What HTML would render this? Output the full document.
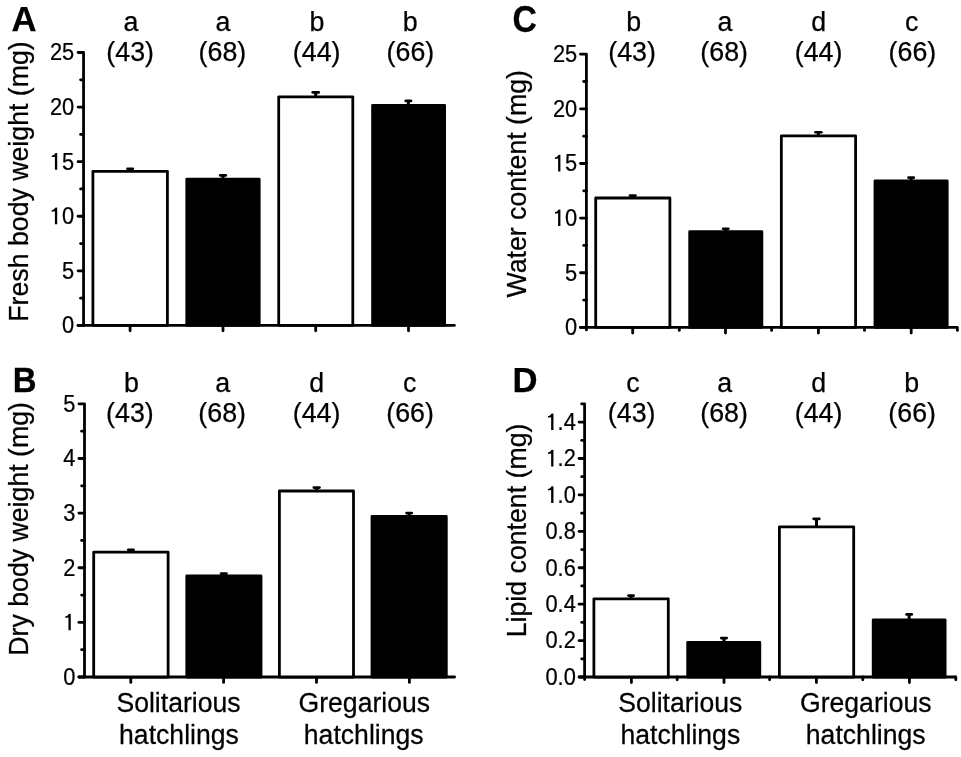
<!DOCTYPE html>
<html><head><meta charset="utf-8"><title>Figure</title>
<style>
html,body{margin:0;padding:0;background:#fff;}
body{width:961px;height:757px;overflow:hidden;}
svg{display:block;will-change:transform;}
text{font-family:"Liberation Sans", sans-serif;fill:#000;stroke:#000;stroke-width:0.25px;}
</style></head>
<body>
<svg width="961" height="757" viewBox="0 0 961 757">
<rect width="961" height="757" fill="#fff"/>
<path d="M78.10,52.50 L83.55,52.50 L83.55,325.45" fill="none" stroke="#000" stroke-width="2.8" stroke-linecap="round" stroke-linejoin="round"/>
<line x1="78.10" y1="325.45" x2="454.40" y2="325.45" stroke="#000" stroke-width="2.8" stroke-linecap="round"/>
<line x1="78.10" y1="325.45" x2="83.55" y2="325.45" stroke="#000" stroke-width="2.8" stroke-linecap="round"/>
<line x1="78.10" y1="270.86" x2="83.55" y2="270.86" stroke="#000" stroke-width="2.8" stroke-linecap="round"/>
<line x1="78.10" y1="216.27" x2="83.55" y2="216.27" stroke="#000" stroke-width="2.8" stroke-linecap="round"/>
<line x1="78.10" y1="161.68" x2="83.55" y2="161.68" stroke="#000" stroke-width="2.8" stroke-linecap="round"/>
<line x1="78.10" y1="107.09" x2="83.55" y2="107.09" stroke="#000" stroke-width="2.8" stroke-linecap="round"/>
<line x1="80.60" y1="298.15" x2="83.55" y2="298.15" stroke="#000" stroke-width="2.8" stroke-linecap="round"/>
<line x1="80.60" y1="243.56" x2="83.55" y2="243.56" stroke="#000" stroke-width="2.8" stroke-linecap="round"/>
<line x1="80.60" y1="188.97" x2="83.55" y2="188.97" stroke="#000" stroke-width="2.8" stroke-linecap="round"/>
<line x1="80.60" y1="134.38" x2="83.55" y2="134.38" stroke="#000" stroke-width="2.8" stroke-linecap="round"/>
<line x1="80.60" y1="79.80" x2="83.55" y2="79.80" stroke="#000" stroke-width="2.8" stroke-linecap="round"/>
<line x1="130.10" y1="325.45" x2="130.10" y2="330.85" stroke="#000" stroke-width="2.8" stroke-linecap="round"/>
<line x1="223.00" y1="325.45" x2="223.00" y2="330.85" stroke="#000" stroke-width="2.8" stroke-linecap="round"/>
<line x1="315.70" y1="325.45" x2="315.70" y2="330.85" stroke="#000" stroke-width="2.8" stroke-linecap="round"/>
<line x1="408.50" y1="325.45" x2="408.50" y2="330.85" stroke="#000" stroke-width="2.8" stroke-linecap="round"/>
<rect x="92.90" y="171.30" width="74.50" height="154.15" fill="#fff" stroke="#000" stroke-width="2.8" stroke-linejoin="round"/>
<rect x="186.80" y="179.20" width="72.40" height="146.25" fill="#000" stroke="#000" stroke-width="2.8" stroke-linejoin="round"/>
<rect x="278.70" y="96.80" width="74.10" height="228.65" fill="#fff" stroke="#000" stroke-width="2.8" stroke-linejoin="round"/>
<rect x="372.60" y="105.30" width="72.00" height="220.15" fill="#000" stroke="#000" stroke-width="2.8" stroke-linejoin="round"/>
<rect x="126.10" y="167.40" width="8.10" height="2.7" rx="1.35" fill="#000"/>
<rect x="128.65" y="168.40" width="3.00" height="3.00" fill="#000"/>
<rect x="218.90" y="174.10" width="8.20" height="2.7" rx="1.35" fill="#000"/>
<rect x="221.50" y="175.10" width="3.00" height="4.20" fill="#000"/>
<rect x="311.40" y="91.10" width="8.60" height="2.7" rx="1.35" fill="#000"/>
<rect x="314.20" y="92.10" width="3.00" height="4.80" fill="#000"/>
<rect x="404.40" y="99.60" width="7.90" height="2.7" rx="1.35" fill="#000"/>
<rect x="406.85" y="100.60" width="3.00" height="4.80" fill="#000"/>
<text transform="translate(74.20,60.40) scale(0.9100,1.0000)" font-size="24" text-anchor="end" font-weight="normal">25</text>
<text transform="translate(74.20,114.99) scale(0.9100,1.0000)" font-size="24" text-anchor="end" font-weight="normal">20</text>
<path d="M57.21,152.98 L57.21,169.68 L54.91,169.68 L54.91,156.78 C54.01,156.88 52.61,157.08 51.71,157.08 L51.71,155.68 C53.01,155.58 54.71,154.58 55.01,153.28 Z" fill="#000"/>
<text transform="translate(74.20,169.58) scale(0.9100,1.0000)" font-size="24" text-anchor="end" font-weight="normal">5</text>
<path d="M57.21,207.57 L57.21,224.27 L54.91,224.27 L54.91,211.37 C54.01,211.47 52.61,211.67 51.71,211.67 L51.71,210.27 C53.01,210.17 54.71,209.17 55.01,207.87 Z" fill="#000"/>
<text transform="translate(74.20,224.17) scale(0.9100,1.0000)" font-size="24" text-anchor="end" font-weight="normal">0</text>
<text transform="translate(74.20,278.76) scale(0.9100,1.0000)" font-size="24" text-anchor="end" font-weight="normal">5</text>
<text transform="translate(74.20,333.35) scale(0.9100,1.0000)" font-size="24" text-anchor="end" font-weight="normal">0</text>
<path d="M78.90,403.85 L84.50,403.85 L84.50,677.00" fill="none" stroke="#000" stroke-width="2.8" stroke-linecap="round" stroke-linejoin="round"/>
<line x1="78.90" y1="677.00" x2="454.60" y2="677.00" stroke="#000" stroke-width="2.8" stroke-linecap="round"/>
<line x1="78.90" y1="677.00" x2="84.50" y2="677.00" stroke="#000" stroke-width="2.8" stroke-linecap="round"/>
<line x1="78.90" y1="622.37" x2="84.50" y2="622.37" stroke="#000" stroke-width="2.8" stroke-linecap="round"/>
<line x1="78.90" y1="567.74" x2="84.50" y2="567.74" stroke="#000" stroke-width="2.8" stroke-linecap="round"/>
<line x1="78.90" y1="513.11" x2="84.50" y2="513.11" stroke="#000" stroke-width="2.8" stroke-linecap="round"/>
<line x1="78.90" y1="458.48" x2="84.50" y2="458.48" stroke="#000" stroke-width="2.8" stroke-linecap="round"/>
<line x1="81.60" y1="649.68" x2="84.50" y2="649.68" stroke="#000" stroke-width="2.8" stroke-linecap="round"/>
<line x1="81.60" y1="595.06" x2="84.50" y2="595.06" stroke="#000" stroke-width="2.8" stroke-linecap="round"/>
<line x1="81.60" y1="540.42" x2="84.50" y2="540.42" stroke="#000" stroke-width="2.8" stroke-linecap="round"/>
<line x1="81.60" y1="485.80" x2="84.50" y2="485.80" stroke="#000" stroke-width="2.8" stroke-linecap="round"/>
<line x1="81.60" y1="431.17" x2="84.50" y2="431.17" stroke="#000" stroke-width="2.8" stroke-linecap="round"/>
<line x1="130.80" y1="677.00" x2="130.80" y2="682.40" stroke="#000" stroke-width="2.8" stroke-linecap="round"/>
<line x1="223.60" y1="677.00" x2="223.60" y2="682.40" stroke="#000" stroke-width="2.8" stroke-linecap="round"/>
<line x1="316.50" y1="677.00" x2="316.50" y2="682.40" stroke="#000" stroke-width="2.8" stroke-linecap="round"/>
<line x1="409.40" y1="677.00" x2="409.40" y2="682.40" stroke="#000" stroke-width="2.8" stroke-linecap="round"/>
<rect x="93.70" y="552.15" width="74.40" height="124.85" fill="#fff" stroke="#000" stroke-width="2.8" stroke-linejoin="round"/>
<rect x="186.80" y="576.00" width="74.20" height="101.00" fill="#000" stroke="#000" stroke-width="2.8" stroke-linejoin="round"/>
<rect x="279.40" y="491.00" width="74.10" height="186.00" fill="#fff" stroke="#000" stroke-width="2.8" stroke-linejoin="round"/>
<rect x="372.00" y="516.50" width="74.30" height="160.50" fill="#000" stroke="#000" stroke-width="2.8" stroke-linejoin="round"/>
<rect x="126.90" y="548.40" width="8.10" height="2.7" rx="1.35" fill="#000"/>
<rect x="129.45" y="549.40" width="3.00" height="2.85" fill="#000"/>
<rect x="219.80" y="572.20" width="8.00" height="2.7" rx="1.35" fill="#000"/>
<rect x="222.30" y="573.20" width="3.00" height="2.90" fill="#000"/>
<rect x="312.50" y="486.20" width="8.30" height="2.7" rx="1.35" fill="#000"/>
<rect x="315.15" y="487.20" width="3.00" height="3.90" fill="#000"/>
<rect x="405.20" y="511.70" width="7.90" height="2.7" rx="1.35" fill="#000"/>
<rect x="407.65" y="512.70" width="3.00" height="3.90" fill="#000"/>
<text transform="translate(75.40,684.90) scale(0.9100,1.0000)" font-size="24" text-anchor="end" font-weight="normal">0</text>
<path d="M70.76,613.67 L70.76,630.37 L68.46,630.37 L68.46,617.47 C67.56,617.57 66.16,617.77 65.26,617.77 L65.26,616.37 C66.56,616.27 68.26,615.27 68.56,613.97 Z" fill="#000"/>
<text transform="translate(75.40,575.64) scale(0.9100,1.0000)" font-size="24" text-anchor="end" font-weight="normal">2</text>
<text transform="translate(75.40,521.01) scale(0.9100,1.0000)" font-size="24" text-anchor="end" font-weight="normal">3</text>
<text transform="translate(75.40,466.38) scale(0.9100,1.0000)" font-size="24" text-anchor="end" font-weight="normal">4</text>
<text transform="translate(75.40,411.75) scale(0.9100,1.0000)" font-size="24" text-anchor="end" font-weight="normal">5</text>
<path d="M580.50,54.20 L586.40,54.20 L586.40,329.90" fill="none" stroke="#000" stroke-width="2.8" stroke-linecap="round" stroke-linejoin="round"/>
<line x1="580.50" y1="327.40" x2="956.60" y2="327.40" stroke="#000" stroke-width="2.8" stroke-linecap="round"/>
<line x1="580.50" y1="327.40" x2="586.40" y2="327.40" stroke="#000" stroke-width="2.8" stroke-linecap="round"/>
<line x1="580.50" y1="272.76" x2="586.40" y2="272.76" stroke="#000" stroke-width="2.8" stroke-linecap="round"/>
<line x1="580.50" y1="218.12" x2="586.40" y2="218.12" stroke="#000" stroke-width="2.8" stroke-linecap="round"/>
<line x1="580.50" y1="163.48" x2="586.40" y2="163.48" stroke="#000" stroke-width="2.8" stroke-linecap="round"/>
<line x1="580.50" y1="108.84" x2="586.40" y2="108.84" stroke="#000" stroke-width="2.8" stroke-linecap="round"/>
<line x1="583.70" y1="300.08" x2="586.40" y2="300.08" stroke="#000" stroke-width="2.8" stroke-linecap="round"/>
<line x1="583.70" y1="245.44" x2="586.40" y2="245.44" stroke="#000" stroke-width="2.8" stroke-linecap="round"/>
<line x1="583.70" y1="190.80" x2="586.40" y2="190.80" stroke="#000" stroke-width="2.8" stroke-linecap="round"/>
<line x1="583.70" y1="136.16" x2="586.40" y2="136.16" stroke="#000" stroke-width="2.8" stroke-linecap="round"/>
<line x1="583.70" y1="81.52" x2="586.40" y2="81.52" stroke="#000" stroke-width="2.8" stroke-linecap="round"/>
<line x1="632.70" y1="327.40" x2="632.70" y2="333.10" stroke="#000" stroke-width="2.8" stroke-linecap="round"/>
<line x1="725.50" y1="327.40" x2="725.50" y2="333.10" stroke="#000" stroke-width="2.8" stroke-linecap="round"/>
<line x1="818.40" y1="327.40" x2="818.40" y2="333.10" stroke="#000" stroke-width="2.8" stroke-linecap="round"/>
<line x1="911.20" y1="327.40" x2="911.20" y2="333.10" stroke="#000" stroke-width="2.8" stroke-linecap="round"/>
<line x1="679.30" y1="327.40" x2="679.30" y2="330.40" stroke="#000" stroke-width="2.8" stroke-linecap="round"/>
<line x1="771.60" y1="327.40" x2="771.60" y2="330.40" stroke="#000" stroke-width="2.8" stroke-linecap="round"/>
<line x1="864.50" y1="327.40" x2="864.50" y2="330.40" stroke="#000" stroke-width="2.8" stroke-linecap="round"/>
<line x1="957.40" y1="327.40" x2="957.40" y2="330.40" stroke="#000" stroke-width="2.8" stroke-linecap="round"/>
<rect x="595.70" y="198.00" width="74.20" height="129.40" fill="#fff" stroke="#000" stroke-width="2.8" stroke-linejoin="round"/>
<rect x="689.70" y="231.60" width="72.15" height="95.80" fill="#000" stroke="#000" stroke-width="2.8" stroke-linejoin="round"/>
<rect x="781.35" y="135.90" width="74.25" height="191.50" fill="#fff" stroke="#000" stroke-width="2.8" stroke-linejoin="round"/>
<rect x="875.00" y="181.00" width="72.20" height="146.40" fill="#000" stroke="#000" stroke-width="2.8" stroke-linejoin="round"/>
<rect x="628.70" y="194.20" width="8.10" height="2.7" rx="1.35" fill="#000"/>
<rect x="631.25" y="195.20" width="3.00" height="2.90" fill="#000"/>
<rect x="721.80" y="227.40" width="7.90" height="2.7" rx="1.35" fill="#000"/>
<rect x="724.25" y="228.40" width="3.00" height="3.30" fill="#000"/>
<rect x="814.10" y="130.90" width="8.60" height="2.7" rx="1.35" fill="#000"/>
<rect x="816.90" y="131.90" width="3.00" height="4.10" fill="#000"/>
<rect x="907.20" y="176.30" width="7.90" height="2.7" rx="1.35" fill="#000"/>
<rect x="909.65" y="177.30" width="3.00" height="3.80" fill="#000"/>
<text transform="translate(577.20,62.10) scale(0.9100,1.0000)" font-size="24" text-anchor="end" font-weight="normal">25</text>
<text transform="translate(577.20,116.74) scale(0.9100,1.0000)" font-size="24" text-anchor="end" font-weight="normal">20</text>
<path d="M560.41,154.78 L560.41,171.48 L558.11,171.48 L558.11,158.58 C557.21,158.68 555.81,158.88 554.91,158.88 L554.91,157.48 C556.21,157.38 557.91,156.38 558.21,155.08 Z" fill="#000"/>
<text transform="translate(577.20,171.38) scale(0.9100,1.0000)" font-size="24" text-anchor="end" font-weight="normal">5</text>
<path d="M560.41,209.42 L560.41,226.12 L558.11,226.12 L558.11,213.22 C557.21,213.32 555.81,213.52 554.91,213.52 L554.91,212.12 C556.21,212.02 557.91,211.02 558.21,209.72 Z" fill="#000"/>
<text transform="translate(577.20,226.02) scale(0.9100,1.0000)" font-size="24" text-anchor="end" font-weight="normal">0</text>
<text transform="translate(577.20,280.66) scale(0.9100,1.0000)" font-size="24" text-anchor="end" font-weight="normal">5</text>
<text transform="translate(577.20,335.30) scale(0.9100,1.0000)" font-size="24" text-anchor="end" font-weight="normal">0</text>
<path d="M581.70,403.89 L584.60,403.89 L584.60,679.50" fill="none" stroke="#000" stroke-width="2.8" stroke-linecap="round" stroke-linejoin="round"/>
<line x1="579.10" y1="677.00" x2="955.20" y2="677.00" stroke="#000" stroke-width="2.8" stroke-linecap="round"/>
<line x1="579.10" y1="677.00" x2="584.60" y2="677.00" stroke="#000" stroke-width="2.8" stroke-linecap="round"/>
<line x1="579.10" y1="640.59" x2="584.60" y2="640.59" stroke="#000" stroke-width="2.8" stroke-linecap="round"/>
<line x1="579.10" y1="604.17" x2="584.60" y2="604.17" stroke="#000" stroke-width="2.8" stroke-linecap="round"/>
<line x1="579.10" y1="567.76" x2="584.60" y2="567.76" stroke="#000" stroke-width="2.8" stroke-linecap="round"/>
<line x1="579.10" y1="531.34" x2="584.60" y2="531.34" stroke="#000" stroke-width="2.8" stroke-linecap="round"/>
<line x1="579.10" y1="494.93" x2="584.60" y2="494.93" stroke="#000" stroke-width="2.8" stroke-linecap="round"/>
<line x1="579.10" y1="458.51" x2="584.60" y2="458.51" stroke="#000" stroke-width="2.8" stroke-linecap="round"/>
<line x1="579.10" y1="422.10" x2="584.60" y2="422.10" stroke="#000" stroke-width="2.8" stroke-linecap="round"/>
<line x1="581.70" y1="658.79" x2="584.60" y2="658.79" stroke="#000" stroke-width="2.8" stroke-linecap="round"/>
<line x1="581.70" y1="622.38" x2="584.60" y2="622.38" stroke="#000" stroke-width="2.8" stroke-linecap="round"/>
<line x1="581.70" y1="585.96" x2="584.60" y2="585.96" stroke="#000" stroke-width="2.8" stroke-linecap="round"/>
<line x1="581.70" y1="549.55" x2="584.60" y2="549.55" stroke="#000" stroke-width="2.8" stroke-linecap="round"/>
<line x1="581.70" y1="513.14" x2="584.60" y2="513.14" stroke="#000" stroke-width="2.8" stroke-linecap="round"/>
<line x1="581.70" y1="476.72" x2="584.60" y2="476.72" stroke="#000" stroke-width="2.8" stroke-linecap="round"/>
<line x1="581.70" y1="440.31" x2="584.60" y2="440.31" stroke="#000" stroke-width="2.8" stroke-linecap="round"/>
<line x1="631.40" y1="677.00" x2="631.40" y2="682.50" stroke="#000" stroke-width="2.8" stroke-linecap="round"/>
<line x1="724.00" y1="677.00" x2="724.00" y2="682.50" stroke="#000" stroke-width="2.8" stroke-linecap="round"/>
<line x1="816.40" y1="677.00" x2="816.40" y2="682.50" stroke="#000" stroke-width="2.8" stroke-linecap="round"/>
<line x1="909.40" y1="677.00" x2="909.40" y2="682.50" stroke="#000" stroke-width="2.8" stroke-linecap="round"/>
<line x1="677.20" y1="677.00" x2="677.20" y2="679.80" stroke="#000" stroke-width="2.8" stroke-linecap="round"/>
<line x1="769.60" y1="677.00" x2="769.60" y2="679.80" stroke="#000" stroke-width="2.8" stroke-linecap="round"/>
<line x1="862.80" y1="677.00" x2="862.80" y2="679.80" stroke="#000" stroke-width="2.8" stroke-linecap="round"/>
<line x1="955.80" y1="677.00" x2="955.80" y2="679.80" stroke="#000" stroke-width="2.8" stroke-linecap="round"/>
<rect x="593.90" y="598.80" width="74.40" height="78.20" fill="#fff" stroke="#000" stroke-width="2.8" stroke-linejoin="round"/>
<rect x="687.70" y="642.30" width="72.10" height="34.70" fill="#000" stroke="#000" stroke-width="2.8" stroke-linejoin="round"/>
<rect x="779.40" y="526.80" width="74.30" height="150.20" fill="#fff" stroke="#000" stroke-width="2.8" stroke-linejoin="round"/>
<rect x="873.20" y="619.80" width="71.90" height="57.20" fill="#000" stroke="#000" stroke-width="2.8" stroke-linejoin="round"/>
<rect x="627.20" y="594.20" width="7.80" height="2.7" rx="1.35" fill="#000"/>
<rect x="629.60" y="595.20" width="3.00" height="3.70" fill="#000"/>
<rect x="719.90" y="636.70" width="8.10" height="2.7" rx="1.35" fill="#000"/>
<rect x="722.45" y="637.70" width="3.00" height="4.70" fill="#000"/>
<rect x="812.30" y="517.50" width="8.40" height="2.7" rx="1.35" fill="#000"/>
<rect x="815.00" y="518.50" width="3.00" height="8.40" fill="#000"/>
<rect x="905.20" y="613.10" width="7.90" height="2.7" rx="1.35" fill="#000"/>
<rect x="907.65" y="614.10" width="3.00" height="5.80" fill="#000"/>
<text transform="translate(575.80,684.90) scale(0.9100,1.0000)" font-size="24" text-anchor="end" font-weight="normal">0.0</text>
<text transform="translate(575.80,648.49) scale(0.9100,1.0000)" font-size="24" text-anchor="end" font-weight="normal">0.2</text>
<text transform="translate(575.80,612.07) scale(0.9100,1.0000)" font-size="24" text-anchor="end" font-weight="normal">0.4</text>
<text transform="translate(575.80,575.66) scale(0.9100,1.0000)" font-size="24" text-anchor="end" font-weight="normal">0.6</text>
<text transform="translate(575.80,539.24) scale(0.9100,1.0000)" font-size="24" text-anchor="end" font-weight="normal">0.8</text>
<path d="M553.44,486.23 L553.44,502.93 L551.14,502.93 L551.14,490.03 C550.24,490.13 548.84,490.33 547.94,490.33 L547.94,488.93 C549.24,488.83 550.94,487.83 551.24,486.53 Z" fill="#000"/>
<text transform="translate(575.80,502.83) scale(0.9100,1.0000)" font-size="24" text-anchor="end" font-weight="normal">.0</text>
<path d="M553.44,449.81 L553.44,466.51 L551.14,466.51 L551.14,453.61 C550.24,453.71 548.84,453.91 547.94,453.91 L547.94,452.51 C549.24,452.41 550.94,451.41 551.24,450.11 Z" fill="#000"/>
<text transform="translate(575.80,466.41) scale(0.9100,1.0000)" font-size="24" text-anchor="end" font-weight="normal">.2</text>
<path d="M553.44,413.40 L553.44,430.10 L551.14,430.10 L551.14,417.20 C550.24,417.30 548.84,417.50 547.94,417.50 L547.94,416.10 C549.24,416.00 550.94,415.00 551.24,413.70 Z" fill="#000"/>
<text transform="translate(575.80,430.00) scale(0.9100,1.0000)" font-size="24" text-anchor="end" font-weight="normal">.4</text>
<text transform="translate(130.91,30.80)" font-size="26.8" text-anchor="middle" font-weight="normal">a</text>
<text transform="translate(130.20,60.80)" font-size="26.8" text-anchor="middle" font-weight="normal">(43)</text>
<text transform="translate(222.86,30.80)" font-size="26.8" text-anchor="middle" font-weight="normal">a</text>
<text transform="translate(222.40,60.80)" font-size="26.8" text-anchor="middle" font-weight="normal">(68)</text>
<text transform="translate(316.98,30.80)" font-size="26.8" text-anchor="middle" font-weight="normal">b</text>
<text transform="translate(316.65,60.80)" font-size="26.8" text-anchor="middle" font-weight="normal">(44)</text>
<text transform="translate(410.13,30.80)" font-size="26.8" text-anchor="middle" font-weight="normal">b</text>
<text transform="translate(410.40,60.80)" font-size="26.8" text-anchor="middle" font-weight="normal">(66)</text>
<text transform="translate(131.43,391.60)" font-size="26.8" text-anchor="middle" font-weight="normal">b</text>
<text transform="translate(129.95,421.50)" font-size="26.8" text-anchor="middle" font-weight="normal">(43)</text>
<text transform="translate(222.76,391.60)" font-size="26.8" text-anchor="middle" font-weight="normal">a</text>
<text transform="translate(222.20,421.50)" font-size="26.8" text-anchor="middle" font-weight="normal">(68)</text>
<text transform="translate(316.75,391.60)" font-size="26.8" text-anchor="middle" font-weight="normal">d</text>
<text transform="translate(316.60,421.50)" font-size="26.8" text-anchor="middle" font-weight="normal">(44)</text>
<text transform="translate(409.62,391.60)" font-size="26.8" text-anchor="middle" font-weight="normal">c</text>
<text transform="translate(410.10,421.50)" font-size="26.8" text-anchor="middle" font-weight="normal">(66)</text>
<text transform="translate(633.58,30.80)" font-size="26.8" text-anchor="middle" font-weight="normal">b</text>
<text transform="translate(632.05,60.80)" font-size="26.8" text-anchor="middle" font-weight="normal">(43)</text>
<text transform="translate(724.91,30.80)" font-size="26.8" text-anchor="middle" font-weight="normal">a</text>
<text transform="translate(724.20,60.80)" font-size="26.8" text-anchor="middle" font-weight="normal">(68)</text>
<text transform="translate(818.80,30.80)" font-size="26.8" text-anchor="middle" font-weight="normal">d</text>
<text transform="translate(818.55,60.80)" font-size="26.8" text-anchor="middle" font-weight="normal">(44)</text>
<text transform="translate(911.67,30.80)" font-size="26.8" text-anchor="middle" font-weight="normal">c</text>
<text transform="translate(912.40,60.80)" font-size="26.8" text-anchor="middle" font-weight="normal">(66)</text>
<text transform="translate(632.92,391.60)" font-size="26.8" text-anchor="middle" font-weight="normal">c</text>
<text transform="translate(631.65,421.50)" font-size="26.8" text-anchor="middle" font-weight="normal">(43)</text>
<text transform="translate(724.66,391.60)" font-size="26.8" text-anchor="middle" font-weight="normal">a</text>
<text transform="translate(724.05,421.50)" font-size="26.8" text-anchor="middle" font-weight="normal">(68)</text>
<text transform="translate(818.75,391.60)" font-size="26.8" text-anchor="middle" font-weight="normal">d</text>
<text transform="translate(818.55,421.50)" font-size="26.8" text-anchor="middle" font-weight="normal">(44)</text>
<text transform="translate(911.73,391.60)" font-size="26.8" text-anchor="middle" font-weight="normal">b</text>
<text transform="translate(912.20,421.50)" font-size="26.8" text-anchor="middle" font-weight="normal">(66)</text>
<text transform="translate(178.50,711.90) scale(0.9852,1.0000)" font-size="27.0" text-anchor="middle" font-weight="normal">Solitarious</text>
<text transform="translate(178.95,744.00) scale(0.9852,1.0000)" font-size="27.0" text-anchor="middle" font-weight="normal">hatchlings</text>
<text transform="translate(364.30,711.90) scale(0.9852,1.0000)" font-size="27.0" text-anchor="middle" font-weight="normal">Gregarious</text>
<text transform="translate(363.70,744.00) scale(0.9852,1.0000)" font-size="27.0" text-anchor="middle" font-weight="normal">hatchlings</text>
<text transform="translate(680.30,711.90) scale(0.9852,1.0000)" font-size="27.0" text-anchor="middle" font-weight="normal">Solitarious</text>
<text transform="translate(680.30,744.00) scale(0.9852,1.0000)" font-size="27.0" text-anchor="middle" font-weight="normal">hatchlings</text>
<text transform="translate(865.75,711.90) scale(0.9852,1.0000)" font-size="27.0" text-anchor="middle" font-weight="normal">Gregarious</text>
<text transform="translate(865.70,744.00) scale(0.9852,1.0000)" font-size="27.0" text-anchor="middle" font-weight="normal">hatchlings</text>
<text transform="translate(28.00,181.50) rotate(-90) scale(0.9709,1.0000)" font-size="27.5" text-anchor="middle" font-weight="normal">Fresh body weight (mg)</text>
<text transform="translate(28.20,528.90) rotate(-90) scale(0.9709,1.0000)" font-size="27.5" text-anchor="middle" font-weight="normal">Dry body weight (mg)</text>
<text transform="translate(526.40,183.80) rotate(-90) scale(0.9709,1.0000)" font-size="27.5" text-anchor="middle" font-weight="normal">Water content (mg)</text>
<text transform="translate(525.70,530.45) rotate(-90) scale(0.9709,1.0000)" font-size="27.5" text-anchor="middle" font-weight="normal">Lipid content (mg)</text>
<text transform="translate(11.50,30.90)" font-size="34.7" text-anchor="start" font-weight="bold">A</text>
<text transform="translate(12.80,392.00) scale(0.9500,1.0000)" font-size="34.7" text-anchor="start" font-weight="bold">B</text>
<text transform="translate(512.50,32.20) scale(0.9750,1.0600)" font-size="34.7" text-anchor="start" font-weight="bold">C</text>
<text transform="translate(512.60,392.00)" font-size="34.7" text-anchor="start" font-weight="bold">D</text>
</svg>
</body></html>
